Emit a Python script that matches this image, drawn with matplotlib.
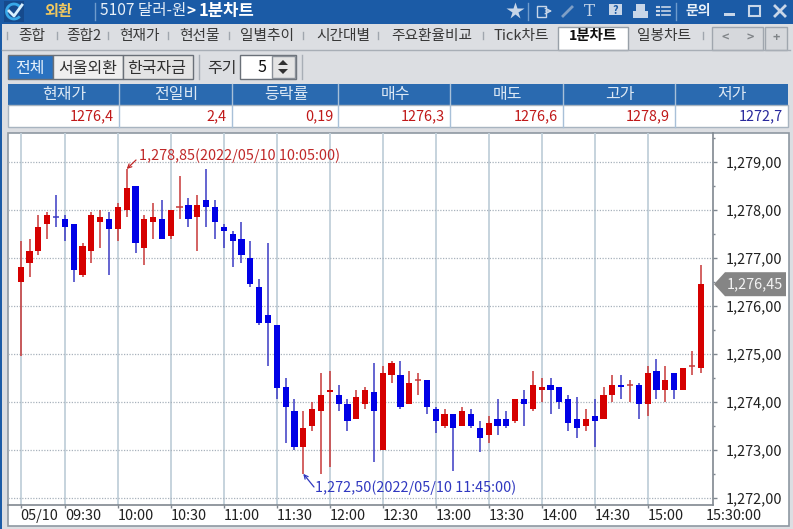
import matplotlib
matplotlib.use("Agg")
import matplotlib.pyplot as plt
from matplotlib.patches import Rectangle, Polygon, Arc
from matplotlib.ticker import FuncFormatter, MultipleLocator

plt.rcParams["font.family"] = ["Noto Sans CJK KR", "DejaVu Sans"]

# -----------------------
# Data (5 minute candles)
# -----------------------
opens = [1276.50, 1276.90, 1277.15, 1277.70, 1277.85, 1277.80, 1277.70, 1276.65, 1277.15, 1277.75,
         1277.80, 1277.60, 1278.00, 1278.50, 1277.20, 1277.75, 1277.80, 1277.45, 1278.05, 1278.10,
         1277.85, 1278.20, 1278.05, 1277.65, 1277.50, 1277.40, 1277.00, 1276.40, 1275.80, 1275.60,
         1274.30, 1273.80, 1273.05, 1273.50, 1273.80, 1274.20, 1274.15, 1273.95, 1273.65, 1273.95,
         1274.20, 1273.00, 1274.55, 1274.55, 1273.95, 1274.45, 1274.45, 1273.85, 1273.50, 1273.75,
         1273.50, 1273.75, 1273.45, 1273.30, 1273.65, 1273.65, 1273.60, 1274.05, 1273.85, 1274.25,
         1274.35, 1274.30, 1274.05, 1273.65, 1273.50, 1273.70, 1273.65, 1274.15, 1274.35, 1274.35,
         1274.35, 1273.95, 1274.65, 1274.25, 1274.60, 1274.25, 1274.75, 1274.70]
highs = [1277.35, 1277.40, 1277.90, 1277.95, 1278.30, 1277.90, 1277.70, 1277.30, 1277.95, 1278.00,
         1277.95, 1278.15, 1278.85, 1278.50, 1277.90, 1278.15, 1278.20, 1278.00, 1278.70, 1278.25,
         1278.30, 1278.85, 1278.20, 1277.70, 1277.55, 1277.75, 1277.35, 1276.55, 1277.30, 1275.60,
         1274.50, 1274.05, 1273.80, 1274.00, 1274.60, 1274.65, 1274.35, 1274.05, 1274.25, 1274.30,
         1274.80, 1274.75, 1274.85, 1274.85, 1274.65, 1274.60, 1274.45, 1273.90, 1273.85, 1273.75,
         1273.90, 1273.85, 1273.60, 1273.70, 1274.05, 1273.80, 1274.05, 1274.25, 1274.65, 1274.50,
         1274.50, 1274.30, 1274.15, 1274.10, 1273.85, 1274.05, 1274.30, 1274.55, 1274.55, 1274.45,
         1274.40, 1274.75, 1274.90, 1274.75, 1274.60, 1274.70, 1275.05, 1276.85]
lows = [1274.95, 1276.60, 1277.05, 1277.40, 1277.65, 1277.35, 1276.50, 1276.60, 1276.90, 1277.20,
        1276.65, 1277.35, 1277.85, 1277.10, 1276.85, 1277.40, 1277.40, 1277.40, 1277.80, 1277.65,
        1277.15, 1277.65, 1277.40, 1277.20, 1276.80, 1276.90, 1276.40, 1275.60, 1274.75, 1274.05,
        1273.15, 1273.00, 1272.50, 1273.40, 1272.50, 1272.65, 1273.80, 1273.40, 1273.65, 1273.85,
        1272.75, 1273.00, 1274.40, 1273.85, 1273.95, 1274.15, 1273.75, 1273.35, 1273.45, 1272.55,
        1273.50, 1273.45, 1272.95, 1273.15, 1273.30, 1273.45, 1273.55, 1273.50, 1273.80, 1274.00,
        1273.75, 1273.85, 1273.40, 1273.25, 1273.40, 1273.05, 1273.65, 1274.00, 1274.05, 1274.00,
        1273.65, 1273.70, 1274.05, 1274.00, 1274.05, 1274.25, 1274.55, 1274.60]
closes = [1276.80, 1277.15, 1277.65, 1277.90, 1277.85, 1277.65, 1276.75, 1277.25, 1277.90, 1277.85,
          1277.60, 1278.05, 1278.45, 1277.30, 1277.80, 1277.85, 1277.40, 1278.00, 1278.05, 1277.80,
          1278.10, 1278.05, 1277.75, 1277.55, 1277.35, 1277.05, 1276.45, 1275.65, 1275.65, 1274.28,
          1273.90, 1273.05, 1273.45, 1273.85, 1274.15, 1274.25, 1273.95, 1273.60, 1274.10, 1274.25,
          1273.80, 1274.60, 1274.80, 1273.90, 1274.40, 1274.45, 1273.90, 1273.60, 1273.75, 1273.45,
          1273.80, 1273.50, 1273.25, 1273.55, 1273.50, 1273.50, 1274.05, 1273.95, 1274.35, 1274.30,
          1274.25, 1274.00, 1273.55, 1273.45, 1273.65, 1273.60, 1274.15, 1274.35, 1274.30, 1274.35,
          1273.95, 1274.60, 1274.25, 1274.45, 1274.25, 1274.70, 1274.75, 1276.45]
# red = up, blue = down, also for the flat candles
up_flags = ("RRRRBBBRRR" "BRRBRRBRRB" "RBBBBBBBBB" "BBRRRRBBRR"
            "BRRBRRBBRB" "RBBRBBRBRR" "BBBBRBRRBR" "BRBRBRRR")

tick_index = [0, 5, 11, 17, 23, 29, 35, 41, 47, 53, 59, 65, 71]
tick_labels = ["05/10", "09:30", "10:00", "10:30", "11:00", "11:30", "12:00",
               "12:30", "13:00", "13:30", "14:00", "14:30", "15:00"]

tab_names = ["종합", "종합2", "현재가", "현선물", "일별추이", "시간대별", "주요환율비교", "Tick차트", "일봉차트"]
tab_centers = [32, 84, 139, 199, 267, 343, 432, 521, 664]
tab_seps = [7, 57, 108, 168, 229, 303, 378, 483, 703]

col_names = ["현재가", "전일비", "등락률", "매수", "매도", "고가", "저가"]
col_values = ["1276,4", "2,4", "0,19", "1276,3", "1276,6", "1278,9", "1272,7"]
col_edges = [8, 119, 232, 338, 450, 563, 675, 788]

W, H = 793, 529
RED = "#d50000"
BLUE = "#0000e6"
HEAD = "#2a6ab0"
BG = "#dcdee2"
TXT = 10.4

fig = plt.figure(figsize=(W / 100, H / 100), dpi=100, facecolor=BG)

# -----------------------
# Window furniture, in pixel coordinates
# -----------------------
ui = fig.add_axes([0, 0, 1, 1], zorder=0)
ui.set_xlim(0, W)
ui.set_ylim(H, 0)
ui.axis("off")


def box(x0, y0, x1, y1, fc, ec="none", lw=1):
    ui.add_patch(Rectangle((x0, y0), x1 - x0, y1 - y0, fc=fc, ec=ec, lw=lw))


def label(x, y, s, size=9.5, color="#303030", ha="center", **kw):
    ui.text(x, y, s, fontsize=size, color=color, ha=ha, va="center", **kw)


box(0, 0, W, 24, "#1b5ba6")
box(0, 0, 2, H, "#1b5ba6")

# logo
box(4, 1, 24, 22, "#164a8c")
ui.add_patch(Arc((14, 11.5), 15, 15, theta1=40, theta2=330, color="#38a8e8", lw=2))
ui.plot([9, 14, 22], [11, 16, 5], color="#d8f0ff", lw=2)

label(58, 11, "외환", 11, "#f0c860", fontweight="bold")
ui.plot([95, 95], [3, 20], color="#6f9ccd", lw=1)
label(100, 11, "5107 달러-원", 11.2, "#e8f0f8", ha="left")
label(186, 11, ">", 11, "white", ha="left", fontweight="bold")
label(199, 11, "1분차트", 12, "white", ha="left", fontweight="bold")

# toolbar icons at the right of the title bar
ui.plot([515], [11], marker="*", ms=13, color="#c8d6e8", mec="none")
ui.plot([528, 528], [3, 20], color="#6f9ccd", lw=1)
box(537, 6, 546, 17, "none", "#c8d6e8", 1)
ui.annotate("", (555, 11), (543, 11), arrowprops=dict(arrowstyle="->", color="#c8d6e8", lw=1))
ui.plot([563, 572], [16, 7], color="#7f9fc6", lw=2)
label(589, 11, "T", 12, "#c8d6e8", family="DejaVu Serif")
box(609, 4, 622, 15, "#c8d6e8")
label(615, 10, "?", 8, "#1b5ba6", fontweight="bold")
box(633, 11, 648, 18, "#c8d6e8")
box(636, 4, 645, 11, "#c8d6e8")
for yy in [7, 11, 15]:
    ui.plot([657, 659], [yy, yy], color="#c8d6e8", lw=1.5)
    ui.plot([662, 670], [yy, yy], color="#c8d6e8", lw=1.2)
ui.plot([676, 676], [3, 20], color="#6f9ccd", lw=1)
label(698, 11, "문의", 10, "#e8f0f8", fontweight="bold")
box(724, 13, 735, 16, "#c8d6e8")
box(749, 6, 760, 16, "none", "#c8d6e8", 1.5)
ui.plot([775, 785], [6, 16], color="#c8d6e8", lw=2)
ui.plot([775, 785], [16, 6], color="#c8d6e8", lw=2)

# tab row
ui.plot([2, 790], [50, 50], color="#a8aeb6", lw=1)
for x in tab_seps:
    ui.plot([x, x], [32, 39], color="#a0a6ae", lw=1)
for x, s in zip(tab_centers, tab_names):
    label(x, 36, s, 10.6, "#383838")
box(558, 27, 628, 50, "white", "#98a0a8")
label(593, 36, "1분차트", 10.4, "#101010", fontweight="bold")
box(712, 27, 763, 50, "#d6d8dc", "#a0a6ae")
box(765, 27, 787, 50, "#d6d8dc", "#a0a6ae")
label(725, 38, "<", 9, "#808488", fontweight="bold")
label(750, 38, ">", 9, "#808488", fontweight="bold")
label(776, 38, "+", 9, "#808488", fontweight="bold")

# period buttons
box(8, 55, 53, 79, "#2a72c0", "#6a7078")
box(53, 55, 123, 79, "#efefef", "#6a7078")
box(123, 55, 193, 79, "#e4e4e4", "#6a7078")
label(30, 68, "전체", 11.5, "#e8f2fc")
label(88, 68, "서울외환", 11.5)
label(157, 68, "한국자금", 11.5)
ui.plot([199, 199], [55, 79], color="#a8aeb6", lw=1)
label(222, 68, "주기", 11.5)
box(240, 55, 296, 79, "white", "#6a7078")
box(272, 56, 295, 78, "#e4e4e4", "#8a9098")
label(262, 67, "5", 11.5, "#101010")
ui.add_patch(Polygon([[278, 65], [288, 65], [283, 60]], fc="#303030"))
ui.add_patch(Polygon([[278, 69], [288, 69], [283, 74]], fc="#303030"))
ui.plot([302, 302], [55, 79], color="#a8aeb6", lw=1)

# quote table
box(8, 84, 788, 105, HEAD)
box(8, 105, 788, 127, "white", "#a8b4c0")
for i, (name, val) in enumerate(zip(col_names, col_values)):
    x0, x1 = col_edges[i], col_edges[i + 1]
    label((x0 + x1) / 2 + 1, 95, name, 11.5, "#dce8f4")
    label(x1 - 5, 116, val, TXT, "#28289c" if name == "저가" else "#c01818", ha="right")
    if i:
        ui.plot([x0, x0], [84, 127], color="#a8c0d8", lw=1)

# chart panel
box(8, 133, 789, 526, "white", "#8e98a2", 1.2)

# -----------------------
# Candles
# -----------------------
ax = fig.add_axes([8 / W, 1 - 505 / H, 705 / W, 372 / H], zorder=1)
ax.patch.set_alpha(0)
ax.set_xlim(-1.44, 78.4)
ax.set_ylim(1271.85, 1279.6)

for x in tick_index:
    ax.axvline(x, color="#c2d0da", lw=1.3, zorder=1)
for y in range(1272, 1280):
    ax.axhline(y, color="#a8b2bc", lw=0.9, ls=(0, (1, 1.2)), zorder=1)

for i in range(len(opens)):
    color = RED if up_flags[i] == "R" else BLUE
    wick = "#c83838" if up_flags[i] == "R" else "#3a3ac4"
    ax.vlines(i, lows[i], highs[i], color=wick, lw=1.1, zorder=2)
    if abs(closes[i] - opens[i]) < 0.02:
        ax.hlines(opens[i], i - 0.36, i + 0.36, color=wick, lw=1.1, zorder=3)
    else:
        ax.bar(i, closes[i] - opens[i], bottom=opens[i], width=0.7, color=color, lw=0, zorder=3)

ax.set_xticks(tick_index)
ax.set_xticklabels(tick_labels, ha="left", fontsize=TXT, color="#202020")
ax.tick_params(axis="x", length=2, width=1, color="#808890", pad=1)
ax.annotate("15:30:00", xy=(77, 0), xycoords=("data", "axes fraction"), xytext=(4, -8),
            textcoords="offset points", fontsize=TXT, color="#202020", ha="left", va="center")

ax.yaxis.tick_right()
ax.yaxis.set_major_locator(MultipleLocator(1))
ax.yaxis.set_minor_locator(MultipleLocator(0.5))
ax.yaxis.set_major_formatter(FuncFormatter(lambda v, p: f"{v:,.2f}".replace(".", ",")))
ax.tick_params(axis="y", which="major", length=3, width=1, color="#808890", pad=6.5, labelsize=TXT, labelcolor="#202020")
ax.tick_params(axis="y", which="minor", length=1.5, width=1, color="#808890")

for side in ["top", "left"]:
    ax.spines[side].set_visible(False)
for side in ["right", "bottom"]:
    ax.spines[side].set_color("#808890")
    ax.spines[side].set_linewidth(1.2)

# high / low notes, short diagonal arrow from the text to the extreme
ax.text(139, 156, "1,278,85(2022/05/10 10:05:00)", transform=ui.transData,
        fontsize=TXT, color="#c02828", va="center", clip_on=False)
ax.annotate("", xy=(12, highs[12]), xytext=(136, 160), textcoords=ui.transData, annotation_clip=False,
            arrowprops=dict(arrowstyle="->", color="#c02828", lw=0.9, shrinkA=0, shrinkB=0, mutation_scale=7))
ax.text(315, 488, "1,272,50(2022/05/10 11:45:00)", transform=ui.transData,
        fontsize=TXT, color="#3038c0", va="center", clip_on=False)
ax.annotate("", xy=(32, lows[32]), xytext=(314, 487), textcoords=ui.transData, annotation_clip=False,
            arrowprops=dict(arrowstyle="->", color="#3038c0", lw=0.9, shrinkA=0, shrinkB=0, mutation_scale=7))

# last price tag
tag_y = ui.transData.inverted().transform(ax.transData.transform((0, closes[-1])))[1]
ui.add_patch(Polygon([[714, tag_y], [725, tag_y - 12], [786, tag_y - 12], [786, tag_y + 12], [725, tag_y + 12]],
                     fc="#858585", ec="none"))
label(755, tag_y, "1,276,45", TXT, "#f4f4f4")

fig.savefig("out.png", dpi=100, facecolor=BG)
plt.close()
